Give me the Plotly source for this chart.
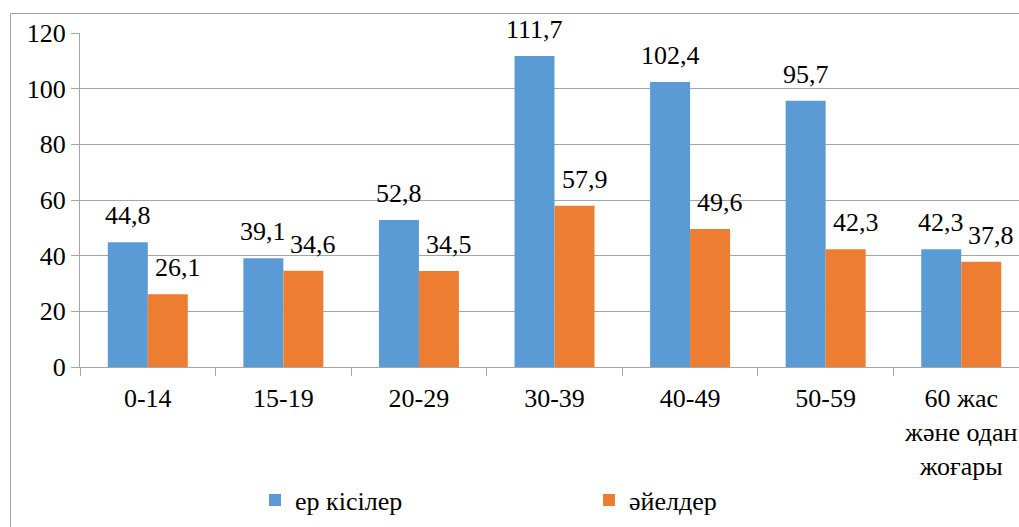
import plotly.graph_objects as go

# Age groups and rates for men and women
categories = ["0-14", "15-19", "20-29", "30-39", "40-49", "50-59",
              "60 жас<br>және одан<br>жоғары"]
men = [44.8, 39.1, 52.8, 111.7, 102.4, 95.7, 42.3]
women = [26.1, 34.6, 34.5, 57.9, 49.6, 42.3, 37.8]
y_ticks = [0, 20, 40, 60, 80, 100, 120]

FONT = "Liberation Serif"
GRID = "#a6a6a6"
W, H = 1019, 527
# plot area edges in pixels
PL, PR, PT, PB = 80, 1019, 33, 367

def fmt(v):
    return f"{v:.1f}".replace(".", ",")

fig = go.Figure()
fig.add_trace(go.Bar(x=categories, y=men, name="ер кісілер",
                     marker=dict(color="#5b9bd5", line=dict(width=0))))
fig.add_trace(go.Bar(x=categories, y=women, name="әйелдер",
                     marker=dict(color="#ed7d31", line=dict(width=0))))

# outer frame of the chart, drawn on a full-page helper axis pair
fig.add_trace(go.Scatter(x=[10.5, 1040, 1040, 10.5, 10.5],
                         y=[13.5, 13.5, 540, 540, 13.5],
                         xaxis="x2", yaxis="y2", mode="lines",
                         line=dict(color="#a0a0a0", width=1),
                         showlegend=False, hoverinfo="skip"))

# value labels above each bar
half = (1 - 0.41) / 4
for i, v in enumerate(men):
    fig.add_annotation(x=i - half, y=v, text=fmt(v), showarrow=False,
                       yanchor="bottom", yshift=10,
                       font=dict(family=FONT, size=26, color="black"))
for i, v in enumerate(women):
    fig.add_annotation(x=i + half, y=v, text=fmt(v), showarrow=False,
                       yanchor="bottom", yshift=10, xshift=10,
                       font=dict(family=FONT, size=26, color="black"))

fig.update_layout(
    width=W, height=H,
    margin=dict(l=0, r=0, t=0, b=0, autoexpand=False),
    paper_bgcolor="white", plot_bgcolor="rgba(0,0,0,0)",
    barmode="group", bargap=0.41, bargroupgap=0,
    font=dict(family=FONT, size=26, color="black"),
    showlegend=True,
    legend=dict(orientation="h", x=255 / W, xanchor="left",
                y=(H - 500) / H, yanchor="middle",
                entrywidth=289, entrywidthmode="pixels",
                font=dict(family=FONT, size=26, color="black")),
    xaxis=dict(
        type="category", domain=[PL / W, PR / W],
        range=[-0.5, 6.5 - (1029 - 1019) / 135.3],
        tickson="boundaries", ticks="outside", ticklen=8, tickcolor=GRID,
        showgrid=False, showline=True, linecolor=GRID, zeroline=False,
        ticklabelstandoff=8,
        tickfont=dict(family=FONT, size=26, color="black"),
    ),
    yaxis=dict(
        domain=[(H - PB) / H, (H - PT) / H],
        range=[0, 120], tickvals=y_ticks, ticksuffix="  ",
        showgrid=True, gridcolor=GRID, gridwidth=1, showline=True,
        linecolor=GRID, ticks="outside", ticklen=8, tickcolor=GRID,
        zeroline=False, tickfont=dict(family=FONT, size=26, color="black"),
    ),
    xaxis2=dict(domain=[0, 1], range=[0, W], visible=False,
                anchor="y2", fixedrange=True),
    yaxis2=dict(domain=[0, 1], range=[H, 0], visible=False,
                anchor="x2", fixedrange=True),
)

fig.write_html("out.html")
